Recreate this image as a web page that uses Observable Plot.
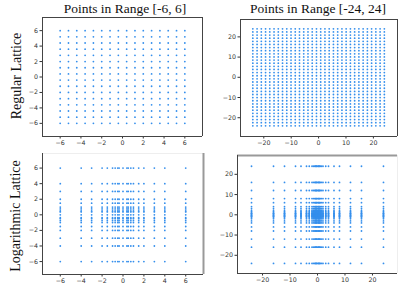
<!DOCTYPE html>
<html>
<head>
<meta charset="utf-8">
<script src="https://cdn.jsdelivr.net/npm/d3@7"></script>
<script src="https://cdn.jsdelivr.net/npm/@observablehq/plot@0.6"></script>
<style>
  html, body { margin: 0; padding: 0; background: #fff; }
  #root { position: relative; width: 416px; height: 292px; overflow: hidden; background: #fff; }
  .panel { position: absolute; }
  .title { position: absolute; font-family: "Liberation Serif", serif; font-size: 13.5px; color: #111; white-space: nowrap; transform: translateX(-50%); }
  .rowlab { position: absolute; font-family: "Liberation Serif", serif; font-size: 14px; color: #111; white-space: nowrap; transform: translate(-50%, -50%) rotate(-90deg); }
</style>
</head>
<body>
<div id="root"></div>
<script>
// Column titles and row labels
const colTitles = ["Points in Range [-6, 6]", "Points in Range [-24, 24]"];
const rowLabels = ["Regular Lattice", "Logarithmic Lattice"];

// Regular lattice coordinates (16 per axis in [-6, 6])
const regular6 = [-6, -5.2, -4.4, -3.6, -2.8, -2, -1.2, -0.4, 0.4, 1.2, 2, 2.8, 3.6, 4.4, 5.2, 6];
// Regular lattice coordinates (32 per axis in [-24, 24])
const regular24 = [-24, -22.45, -20.9, -19.35, -17.81, -16.26, -14.71, -13.16, -11.61, -10.06, -8.52, -6.97, -5.42, -3.87, -2.32, -0.77,
                   0.77, 2.32, 3.87, 5.42, 6.97, 8.52, 10.06, 11.61, 13.16, 14.71, 16.26, 17.81, 19.35, 20.9, 22.45, 24];
// Logarithmic lattice coordinates
const log6 = [-6, -4, -3, -2, -1.5, -1, -0.75, -0.5, -0.375, 0, 0.375, 0.5, 0.75, 1, 1.5, 2, 3, 4, 6];
const log24 = [-24, -16, -12, -8, -6, -4, -3, -2, -1.5, -1, -0.75, -0.5, -0.375, 0,
               0.375, 0.5, 0.75, 1, 1.5, 2, 3, 4, 6, 8, 12, 16, 24];

// Tick labels
const ticks6 = [-6, -4, -2, 0, 2, 4, 6];
const ticks24 = [-20, -10, 0, 10, 20];

const dotColor = "#358fec";

function grid(vals) {
  const out = [];
  for (const x of vals) for (const y of vals) out.push({x, y});
  return out;
}

const root = document.getElementById("root");

function panel({left, top, width, height, mL, mR, mT, mB, xd, yd, vals, ticks, sides}) {
  const fmt = d => d < 0 ? "\u2212" + Math.abs(d) : String(d);
  const marks = [
    Plot.dot(grid(vals), {x: "x", y: "y", r: 0.9, fill: dotColor, stroke: null}),
    Plot.axisX({ticks, tickSize: 2.5, tickPadding: 2, fontSize: 6.3, tickFormat: fmt, color: "#333"}),
    Plot.axisY({ticks, tickSize: 2.5, tickPadding: 2, fontSize: 6.3, tickFormat: fmt, color: "#333"})
  ];
  for (const s of sides) {
    if (s.side === "left") marks.push(Plot.ruleX([xd[0]], {stroke: s.color, strokeWidth: s.w}));
    if (s.side === "right") marks.push(Plot.ruleX([xd[1]], {stroke: s.color, strokeWidth: s.w}));
    if (s.side === "bottom") marks.push(Plot.ruleY([yd[0]], {stroke: s.color, strokeWidth: s.w}));
    if (s.side === "top") marks.push(Plot.ruleY([yd[1]], {stroke: s.color, strokeWidth: s.w}));
  }
  const svg = Plot.plot({
    width, height,
    marginLeft: mL, marginRight: mR, marginTop: mT, marginBottom: mB,
    x: {domain: xd, label: null},
    y: {domain: yd, label: null},
    style: {fontFamily: "'DejaVu Sans', sans-serif", background: "transparent", overflow: "visible"},
    marks
  });
  const wrap = document.createElement("div");
  wrap.className = "panel";
  wrap.style.left = left + "px";
  wrap.style.top = top + "px";
  wrap.appendChild(svg);
  root.appendChild(wrap);
}

const box = [
  {side: "left", color: "#444", w: 1},
  {side: "right", color: "#444", w: 1},
  {side: "top", color: "#444", w: 1},
  {side: "bottom", color: "#444", w: 1}
];

// Top-left
panel({left: 0, top: 0, width: 208, height: 146, mL: 42, mR: 6, mT: 17, mB: 10,
  xd: [-7.7, 7.7], yd: [-7.7, 7.7], vals: regular6, ticks: ticks6, sides: box});
// Top-right
panel({left: 208, top: 0, width: 208, height: 146, mL: 32, mR: 19, mT: 19, mB: 10,
  xd: [-28.5, 28.8], yd: [-29.3, 28.6], vals: regular24, ticks: ticks24, sides: box});
// Bottom-left
panel({left: 0, top: 146, width: 208, height: 146, mL: 42, mR: 5, mT: 7, mB: 18,
  xd: [-7.7, 7.7], yd: [-7.66, 7.87], vals: log6, ticks: ticks6, sides: [
    {side: "top", color: "#eee", w: 1},
    {side: "right", color: "#999", w: 2},
    {side: "left", color: "#444", w: 1},
    {side: "bottom", color: "#444", w: 1}
  ]});
// Bottom-right
panel({left: 208, top: 146, width: 208, height: 146, mL: 29, mR: 19, mT: 9, mB: 19,
  xd: [-29.1, 29.1], yd: [-29, 29.3], vals: log24, ticks: ticks24, sides: [
    {side: "right", color: "#eee", w: 1},
    {side: "top", color: "#999", w: 2},
    {side: "left", color: "#444", w: 1},
    {side: "bottom", color: "#444", w: 1}
  ]});

// Titles
[[125, 1], [318, 1]].forEach(([cx, ty], i) => {
  const d = document.createElement("div");
  d.className = "title";
  d.style.left = cx + "px";
  d.style.top = ty + "px";
  d.textContent = colTitles[i];
  root.appendChild(d);
});
// Row labels
[[17, 76], [16, 216]].forEach(([cx, cy], i) => {
  const d = document.createElement("div");
  d.className = "rowlab";
  d.style.left = cx + "px";
  d.style.top = cy + "px";
  d.textContent = rowLabels[i];
  root.appendChild(d);
});
</script>
</body>
</html>
